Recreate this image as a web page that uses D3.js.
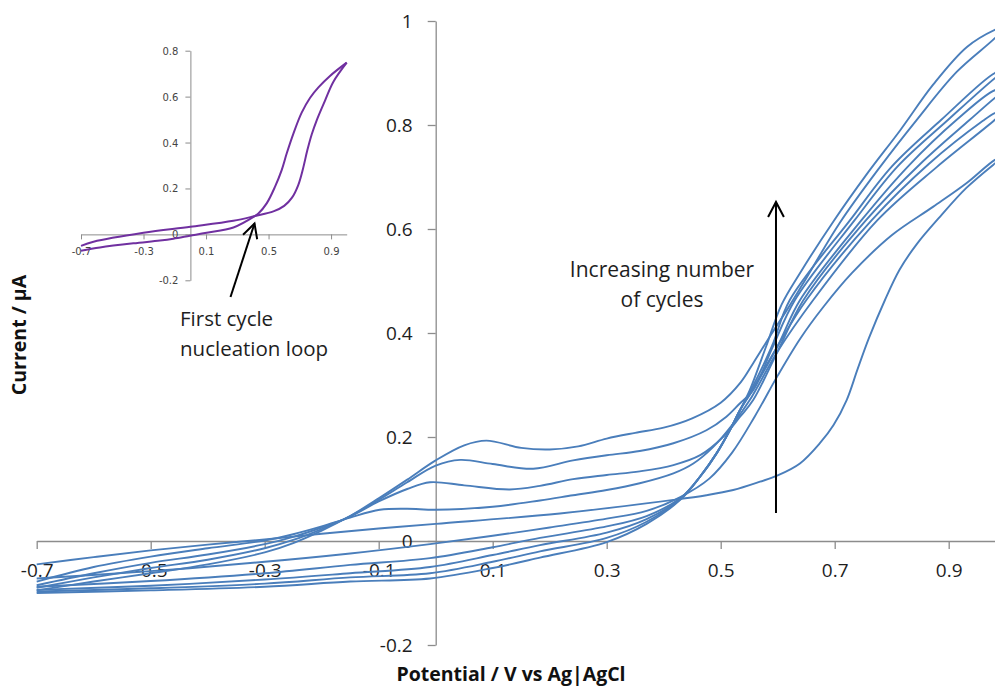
<!DOCTYPE html>
<html>
<head>
<meta charset="utf-8">
<script src="https://cdn.jsdelivr.net/npm/d3@7"></script>
<style>
  html, body { margin: 0; padding: 0; background: #fff; overflow: hidden; }
  svg { display: block; font-family: "Open Sans", Lato, sans-serif; }
</style>
</head>
<body>
<svg id="chart" width="995" height="688"></svg>
<script>
// ---------- DATA ----------
const mainTicksX = [-0.7, -0.5, -0.3, -0.1, 0.1, 0.3, 0.5, 0.7, 0.9];
const mainTickLabelsX = ["-0.7", "-0.5", "-0.3", "-0.1", "0.1", "0.3", "0.5", "0.7", "0.9"];
const mainTicksY = [-0.2, 0, 0.2, 0.4, 0.6, 0.8, 1];
const mainTickLabelsY = ["-0.2", "0", "0.2", "0.4", "0.6", "0.8", "1"];
const insetTicksX = [-0.7, -0.3, 0.1, 0.5, 0.9];
const insetTickLabelsX = ["-0.7", "-0.3", "0.1", "0.5", "0.9"];
const insetTicksY = [-0.2, 0, 0.2, 0.4, 0.6, 0.8];
const insetTickLabelsY = ["-0.2", "0", "0.2", "0.4", "0.6", "0.8"];

const xTitle = "Potential / V vs Ag|AgCl";
const yTitle = "Current / μA";
const annotCycles = ["Increasing number", "of cycles"];
const annotFirst = ["First cycle", "nucleation loop"];

// main chart: potential (V), current (µA) — forward (anodic) and reverse sweeps of each cycle
const cycle1Forward = [[-0.7,-0.045],[-0.6,-0.031],[-0.5,-0.018],[-0.4,-0.007],[-0.3,0.003],[-0.2,0.014],[-0.1,0.024],[0,0.033],[0.218,0.053],[0.417,0.079],[0.475,0.088],[0.522,0.098],[0.569,0.114],[0.6,0.126],[0.639,0.149],[0.674,0.188],[0.698,0.223],[0.721,0.271],[0.74,0.33],[0.76,0.39],[0.788,0.463],[0.814,0.522],[0.844,0.571],[0.885,0.624],[0.931,0.679],[0.981,0.726],[1.0,0.742]];
const cycle1Reverse = [[-0.7,-0.072],[-0.5,-0.058],[-0.3,-0.040],[-0.15,-0.024],[-0.01,-0.006],[0.1,0.010],[0.2,0.026],[0.3,0.043],[0.37,0.058],[0.43,0.085],[0.48,0.12],[0.52,0.17],[0.56,0.24],[0.6,0.318],[0.64,0.39],[0.68,0.45],[0.73,0.515],[0.8,0.588],[0.873,0.643],[0.931,0.688],[0.981,0.733],[1.0,0.742]];

const cycle2Forward = [[-0.7,-0.078],[-0.6,-0.050],[-0.5,-0.030],[-0.4,-0.014],[-0.3,0.001],[-0.25,0.013],[-0.2,0.028],[-0.15,0.045],[-0.098,0.060],[-0.05,0.062],[0,0.060],[0.1,0.066],[0.183,0.078],[0.241,0.088],[0.3,0.098],[0.358,0.111],[0.417,0.130],[0.452,0.149],[0.487,0.181],[0.522,0.226],[0.551,0.271],[0.6,0.365],[0.662,0.463],[0.775,0.617],[0.88,0.72],[0.981,0.810],[1.0,0.83]];
const cycle2Reverse = [[-0.7,-0.088],[-0.5,-0.077],[-0.3,-0.062],[-0.15,-0.046],[-0.01,-0.033],[0.1,-0.012],[0.183,0.006],[0.3,0.028],[0.37,0.048],[0.43,0.083],[0.464,0.124],[0.493,0.169],[0.516,0.213],[0.534,0.252],[0.555,0.29],[0.6,0.375],[0.650,0.463],[0.765,0.617],[0.865,0.725],[0.96,0.808],[0.981,0.823],[1.0,0.83]];

const cycle3Forward = [[-0.7,-0.085],[-0.6,-0.062],[-0.5,-0.042],[-0.4,-0.026],[-0.3,-0.006],[-0.25,0.008],[-0.2,0.026],[-0.15,0.047],[-0.1,0.076],[-0.05,0.100],[-0.01,0.113],[0.05,0.107],[0.13,0.099],[0.183,0.106],[0.241,0.119],[0.3,0.127],[0.358,0.134],[0.417,0.146],[0.464,0.165],[0.505,0.201],[0.534,0.239],[0.557,0.271],[0.6,0.365],[0.645,0.463],[0.755,0.617],[0.85,0.725],[0.937,0.81],[0.981,0.852],[1.0,0.868]];
const cycle3Reverse = [[-0.7,-0.094],[-0.5,-0.086],[-0.3,-0.074],[-0.15,-0.062],[-0.01,-0.050],[0.1,-0.027],[0.183,-0.008],[0.3,0.016],[0.37,0.042],[0.43,0.082],[0.464,0.124],[0.493,0.169],[0.516,0.213],[0.534,0.252],[0.556,0.29],[0.6,0.375],[0.639,0.463],[0.747,0.617],[0.83,0.722],[0.914,0.81],[0.981,0.867],[1.0,0.868]];

const cycle4Forward = [[-0.7,-0.090],[-0.6,-0.070],[-0.5,-0.052],[-0.4,-0.036],[-0.3,-0.014],[-0.25,0.002],[-0.2,0.023],[-0.15,0.048],[-0.1,0.079],[-0.05,0.113],[0,0.145],[0.043,0.156],[0.1,0.148],[0.171,0.139],[0.241,0.155],[0.3,0.165],[0.358,0.173],[0.417,0.188],[0.475,0.213],[0.51,0.239],[0.534,0.265],[0.557,0.29],[0.59,0.37],[0.630,0.463],[0.735,0.617],[0.81,0.72],[0.899,0.81],[0.981,0.89],[1.0,0.905]];
const cycle4Reverse = [[-0.7,-0.097],[-0.5,-0.091],[-0.3,-0.082],[-0.15,-0.070],[-0.01,-0.062],[0.1,-0.040],[0.183,-0.020],[0.3,0.006],[0.37,0.037],[0.43,0.081],[0.464,0.124],[0.493,0.169],[0.516,0.213],[0.534,0.252],[0.553,0.29],[0.59,0.375],[0.621,0.463],[0.727,0.617],[0.80,0.72],[0.887,0.81],[0.981,0.900],[1.0,0.905]];

const cycle5Forward = [[-0.7,-0.095],[-0.6,-0.078],[-0.5,-0.062],[-0.4,-0.045],[-0.3,-0.022],[-0.25,-0.004],[-0.2,0.020],[-0.15,0.048],[-0.1,0.082],[-0.05,0.118],[0,0.155],[0.05,0.184],[0.089,0.193],[0.15,0.179],[0.2,0.176],[0.25,0.182],[0.3,0.197],[0.35,0.208],[0.4,0.218],[0.45,0.236],[0.5,0.266],[0.535,0.305],[0.557,0.342],[0.586,0.393],[0.616,0.444],[0.645,0.496],[0.709,0.612],[0.78,0.72],[0.844,0.81],[0.914,0.902],[0.981,0.967],[1.0,0.99]];
const cycle5Reverse = [[-0.7,-0.100],[-0.5,-0.095],[-0.3,-0.088],[-0.15,-0.078],[-0.01,-0.072],[0.1,-0.052],[0.183,-0.032],[0.3,-0.002],[0.37,0.033],[0.43,0.080],[0.464,0.124],[0.493,0.169],[0.516,0.213],[0.534,0.252],[0.551,0.29],[0.58,0.375],[0.607,0.455],[0.639,0.515],[0.698,0.615],[0.756,0.705],[0.815,0.79],[0.873,0.878],[0.932,0.95],[0.981,0.983],[1.0,0.99]];

// inset: first cycle only
const insetForward = [[-0.7,-0.050],[-0.62,-0.032],[-0.3,0.007],[0,0.033],[0.275,0.059],[0.413,0.080],[0.531,0.100],[0.6,0.124],[0.65,0.16],[0.69,0.215],[0.72,0.285],[0.748,0.366],[0.776,0.435],[0.808,0.497],[0.862,0.584],[0.915,0.665],[1.0,0.748]];
const insetReverse = [[-0.7,-0.071],[-0.579,-0.057],[-0.365,-0.039],[-0.195,-0.027],[-0.109,-0.019],[-0.003,-0.006],[0.104,0.007],[0.275,0.030],[0.413,0.080],[0.435,0.091],[0.488,0.135],[0.541,0.207],[0.584,0.280],[0.616,0.352],[0.659,0.439],[0.712,0.530],[0.766,0.595],[0.819,0.640],[0.893,0.690],[1.0,0.748]];

const cycles = [
  [cycle1Forward, cycle1Reverse],
  [cycle2Forward, cycle2Reverse],
  [cycle3Forward, cycle3Reverse],
  [cycle4Forward, cycle4Reverse],
  [cycle5Forward, cycle5Reverse]
];

// ---------- DRAW ----------
const svg = d3.select("#chart");
const blue = "#4A7EBB";
const purple = "#7030A0";
const axisGray = "#8C8C8C";
const txt = "#1E1E1E";

// main scales
const x = d3.scaleLinear().domain([-0.7, 1.0]).range([36.7, 36.7 + 1.7 * 570]);
const y = d3.scaleLinear().domain([-0.2, 1]).range([645, 21]);

const gMain = svg.append("g");

// x axis
const xAxis = d3.axisBottom(x).tickValues(mainTicksX)
  .tickFormat((d, i) => mainTickLabelsX[i]).tickSizeInner(8).tickSizeOuter(0).tickPadding(0);
const gx = gMain.append("g").attr("transform", `translate(0,${y(0)})`).call(xAxis);
gx.select(".domain").attr("stroke", axisGray).attr("stroke-width", 1.3);
gx.selectAll(".tick line").attr("stroke", axisGray).attr("stroke-width", 1.3);
gx.selectAll(".tick text").attr("y", 36).attr("dy", 0)
  .attr("font-size", 19).attr("fill", txt).attr("font-family", "'Open Sans', sans-serif");

// y axis
const yAxis = d3.axisLeft(y).tickValues(mainTicksY)
  .tickFormat((d, i) => mainTickLabelsY[i]).tickSizeInner(8).tickSizeOuter(0).tickPadding(0);
const gy = gMain.append("g").attr("transform", `translate(${x(0)},0)`).call(yAxis);
gy.select(".domain").attr("stroke", axisGray).attr("stroke-width", 1.3);
gy.selectAll(".tick line").attr("stroke", axisGray).attr("stroke-width", 1.3);
gy.selectAll(".tick text").attr("x", -23).attr("dy", "0.36em")
  .attr("font-size", 19).attr("fill", txt).attr("font-family", "'Open Sans', sans-serif");

// lines
const line = d3.line().x(d => x(d[0])).y(d => y(d[1])).curve(d3.curveCatmullRom.alpha(0.5));
cycles.forEach(cyc => {
  cyc.forEach(branch => {
    gMain.append("path").datum(branch).attr("d", line)
      .attr("fill", "none").attr("stroke", blue).attr("stroke-width", 1.9);
  });
});

// axis titles
svg.append("text").attr("x", 511).attr("y", 681).attr("text-anchor", "middle")
  .attr("font-size", 19.5).attr("font-weight", "bold").attr("fill", "#111").text(xTitle);
svg.append("text").attr("transform", "translate(26,335) rotate(-90)").attr("text-anchor", "middle")
  .attr("font-size", 19.5).attr("font-weight", "bold").attr("fill", "#111").text(yTitle);

// annotation: increasing cycles
function arrow(g, x1, y1, x2, y2, len, ang) {
  g.append("line").attr("x1", x1).attr("y1", y1).attr("x2", x2).attr("y2", y2)
    .attr("stroke", "#000").attr("stroke-width", 2);
  const a = Math.atan2(y1 - y2, x1 - x2);
  const p1 = [x2 + len * Math.cos(a + ang), y2 + len * Math.sin(a + ang)];
  const p2 = [x2 + len * Math.cos(a - ang), y2 + len * Math.sin(a - ang)];
  g.append("path").attr("d", `M${p1[0]},${p1[1]}L${x2},${y2}L${p2[0]},${p2[1]}`)
    .attr("fill", "none").attr("stroke", "#000").attr("stroke-width", 2);
}
arrow(svg, x(0.597), y(0.054), x(0.597), y(0.652), 17, Math.PI / 6.5);
svg.selectAll(".annC").data(annotCycles).enter().append("text")
  .attr("x", 662).attr("y", (d, i) => 277 + i * 30).attr("text-anchor", "middle")
  .attr("font-size", 21).attr("fill", txt).text(d => d);

// ---------- INSET ----------
const xi = d3.scaleLinear().domain([-0.7, 1.0]).range([81, 346.7]);
const yi = d3.scaleLinear().domain([-0.2, 0.8]).range([280.3, 50.7]);
const gIn = svg.append("g");
const xiAxis = d3.axisBottom(xi).tickValues(insetTicksX)
  .tickFormat((d, i) => insetTickLabelsX[i]).tickSizeInner(5).tickSizeOuter(0).tickPadding(0);
const gxi = gIn.append("g").attr("transform", `translate(0,${yi(0)})`).call(xiAxis);
gxi.select(".domain").attr("stroke", axisGray);
gxi.selectAll(".tick line").attr("stroke", axisGray);
gxi.selectAll(".tick text").attr("y", 21).attr("dy", 0).attr("font-size", 10)
  .attr("fill", "#444").attr("font-family", "'DejaVu Sans', sans-serif");
const yiAxis = d3.axisLeft(yi).tickValues(insetTicksY)
  .tickFormat((d, i) => insetTickLabelsY[i]).tickSizeInner(5).tickSizeOuter(0).tickPadding(0);
const gyi = gIn.append("g").attr("transform", `translate(${xi(0)},0)`).call(yiAxis);
gyi.select(".domain").attr("stroke", axisGray);
gyi.selectAll(".tick line").attr("stroke", axisGray);
gyi.selectAll(".tick text").attr("x", -12).attr("dy", "0.35em").attr("font-size", 10)
  .attr("fill", "#444").attr("font-family", "'DejaVu Sans', sans-serif");

const linei = d3.line().x(d => xi(d[0])).y(d => yi(d[1])).curve(d3.curveCatmullRom.alpha(0.5));
[insetForward, insetReverse].forEach(b => {
  gIn.append("path").datum(b).attr("d", linei).attr("fill", "none")
    .attr("stroke", purple).attr("stroke-width", 2);
});

arrow(svg, 230.5, 297, 254.5, 223.5, 16, Math.PI / 6.5);
svg.selectAll(".annF").data(annotFirst).enter().append("text")
  .attr("x", 180).attr("y", (d, i) => 326 + i * 30).attr("text-anchor", "start")
  .attr("font-size", 20.5).attr("fill", txt).text(d => d);
</script>
</body>
</html>
